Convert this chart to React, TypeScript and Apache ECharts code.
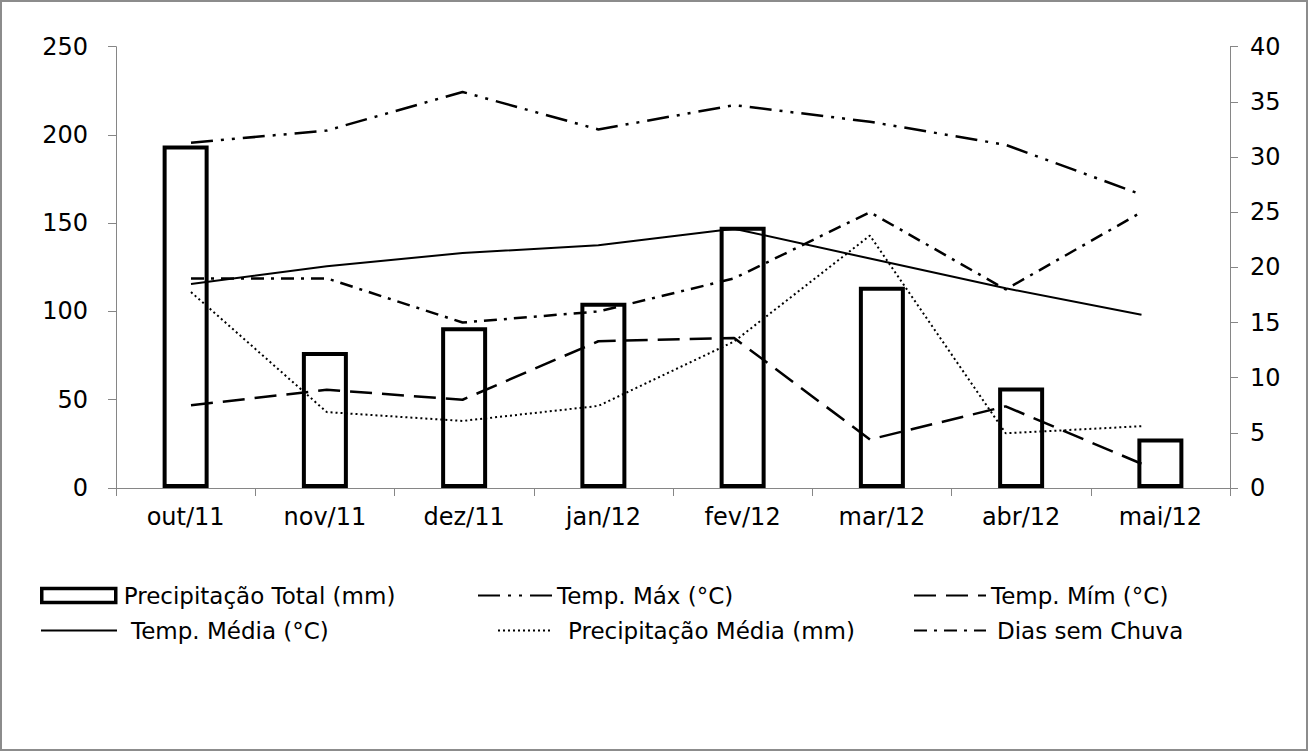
import React, { useEffect, useRef } from "react";
import * as echarts from "echarts";

const categories = ["out/11", "nov/11", "dez/11", "jan/12", "fev/12", "mar/12", "abr/12", "mai/12"];
const precipTotal = [194, 77, 91, 105, 148, 114, 57, 28];
const tempMax = [31.3, 32.4, 35.9, 32.5, 34.7, 33.2, 31.1, 26.6];
const tempMin = [7.5, 8.9, 8.0, 13.3, 13.6, 4.4, 7.4, 2.2];
const tempMedia = [18.5, 20.1, 21.3, 22.0, 23.5, 20.8, 18.1, 15.7];
const precipMedia = [111, 43, 38, 46.5, 83, 143, 31, 35];
const diasSemChuva = [19, 19, 15, 16, 19, 25, 18, 25];

const leftMin = 0;
const leftMax = 250;
const leftStep = 50;
const rightMin = 0;
const rightMax = 40;
const rightStep = 5;

const names = {
  pt: "Precipitação Total (mm)",
  tmax: "Temp. Máx (°C)",
  tmin: "Temp. Mím (°C)",
  tmed: "Temp. Média (°C)",
  pm: "Precipitação Média (mm)",
  dias: "Dias sem Chuva",
};

const FONT = "'DejaVu Sans', sans-serif";
const AXIS_COLOR = "#868686";
const AXIS_FONT = 24;
const LEGEND_FONT = 23;

export default function App() {
  const ref = useRef<HTMLDivElement>(null);

  useEffect(() => {
    if (!ref.current) return;
    const chart = echarts.init(ref.current, undefined, { renderer: "svg" });

    const gridTop = 46.7;
    const gridBottom = 752 - 488;

    const legendItem = (
      name: string,
      left: number,
      top: number,
      width: number,
      pad: number,
      isBar: boolean
    ) => ({
      data: [name],
      left,
      top,
      itemWidth: width,
      itemHeight: 14,
      orient: "horizontal",
      selectedMode: false,
      padding: 0,
      ...(isBar
        ? { icon: "rect", itemStyle: { color: "#fff", borderColor: "#000", borderWidth: 3.5 } }
        : { itemStyle: { opacity: 0 } }),
      textStyle: { fontFamily: FONT, fontSize: LEGEND_FONT, color: "#000", padding: [0, 0, 0, pad] },
    });

    const row1 = 584;
    const row2 = 619;

    const option: any = {
      animation: false,
      backgroundColor: "#fff",
      textStyle: { fontFamily: FONT },
      graphic: [
        {
          type: "rect",
          shape: { x: 1, y: 1, width: 1306, height: 749 },
          style: { fill: "none", stroke: "#8c8c8c", lineWidth: 2 },
          silent: true,
        },
      ],
      legend: [
        legendItem(names.pt, 40, row1, 74, 3, true),
        legendItem(names.tmax, 477, row1, 74, 0, false),
        legendItem(names.tmin, 913, row1, 72, 0, false),
        legendItem(names.tmed, 40, row2, 76, 9, false),
        legendItem(names.pm, 497, row2, 54, 11, false),
        legendItem(names.dias, 913, row2, 72, 6, false),
      ],
      grid: [
        { left: 116, right: 1309 - 1230, top: gridTop, bottom: gridBottom },
        { left: 191, right: 1309 - 1141.5, top: gridTop, bottom: gridBottom },
      ],
      xAxis: [
        {
          type: "category",
          gridIndex: 0,
          data: categories,
          boundaryGap: true,
          axisLine: { lineStyle: { color: AXIS_COLOR, width: 1 } },
          axisTick: { show: true, length: 8, lineStyle: { color: AXIS_COLOR } },
          axisLabel: { color: "#000", fontSize: AXIS_FONT, fontFamily: FONT, margin: 17, interval: 0 },
          splitLine: { show: false },
        },
        {
          type: "category",
          gridIndex: 1,
          data: categories,
          boundaryGap: false,
          show: false,
        },
      ],
      yAxis: [
        {
          type: "value",
          gridIndex: 0,
          position: "left",
          min: leftMin,
          max: leftMax,
          interval: leftStep,
          axisLine: { show: true, lineStyle: { color: AXIS_COLOR, width: 1 } },
          axisTick: { show: true, length: 8, lineStyle: { color: AXIS_COLOR } },
          axisLabel: { color: "#000", fontSize: AXIS_FONT, fontFamily: FONT, margin: 28 },
          splitLine: { show: false },
        },
        {
          type: "value",
          gridIndex: 0,
          position: "right",
          min: rightMin,
          max: rightMax,
          interval: rightStep,
          axisLine: { show: true, lineStyle: { color: AXIS_COLOR, width: 1 } },
          axisTick: { show: true, length: 8, lineStyle: { color: AXIS_COLOR } },
          axisLabel: { color: "#000", fontSize: AXIS_FONT, fontFamily: FONT, margin: 20 },
          splitLine: { show: false },
        },
        {
          type: "value",
          gridIndex: 1,
          min: leftMin,
          max: leftMax,
          interval: leftStep,
          show: false,
          splitLine: { show: false },
        },
        {
          type: "value",
          gridIndex: 1,
          min: rightMin,
          max: rightMax,
          interval: rightStep,
          show: false,
          splitLine: { show: false },
        },
      ],
      series: [
        {
          name: names.pt,
          type: "bar",
          xAxisIndex: 0,
          yAxisIndex: 0,
          data: precipTotal,
          barWidth: 46,
          itemStyle: { color: "#fff", borderColor: "#000", borderWidth: 4 },
          z: 1,
        },
        {
          name: names.tmax,
          type: "line",
          xAxisIndex: 1,
          yAxisIndex: 3,
          data: tempMax,
          symbol: "none",
          lineStyle: { color: "#000", width: 2.5, type: [22, 8, 3, 8, 3, 8] },
          itemStyle: { color: "#000" },
          z: 3,
        },
        {
          name: names.tmin,
          type: "line",
          xAxisIndex: 1,
          yAxisIndex: 3,
          data: tempMin,
          symbol: "none",
          lineStyle: { color: "#000", width: 2.5, type: [22, 10] },
          itemStyle: { color: "#000" },
          z: 3,
        },
        {
          name: names.tmed,
          type: "line",
          xAxisIndex: 1,
          yAxisIndex: 3,
          data: tempMedia,
          symbol: "none",
          lineStyle: { color: "#000", width: 2 },
          itemStyle: { color: "#000" },
          z: 3,
        },
        {
          name: names.pm,
          type: "line",
          xAxisIndex: 1,
          yAxisIndex: 2,
          data: precipMedia,
          symbol: "none",
          lineStyle: { color: "#000", width: 2, type: [2, 3] },
          itemStyle: { color: "#000" },
          z: 3,
        },
        {
          name: names.dias,
          type: "line",
          xAxisIndex: 1,
          yAxisIndex: 3,
          data: diasSemChuva,
          symbol: "none",
          lineStyle: { color: "#000", width: 2.5, type: [13, 7, 3, 7] },
          itemStyle: { color: "#000" },
          z: 3,
        },
      ],
    };

    chart.setOption(option);
    return () => chart.dispose();
  }, []);

  return (
    <div
      ref={ref}
      style={{ position: "absolute", left: 0, top: 0, width: 1309, height: 752, background: "#fff" }}
    />
  );
}
